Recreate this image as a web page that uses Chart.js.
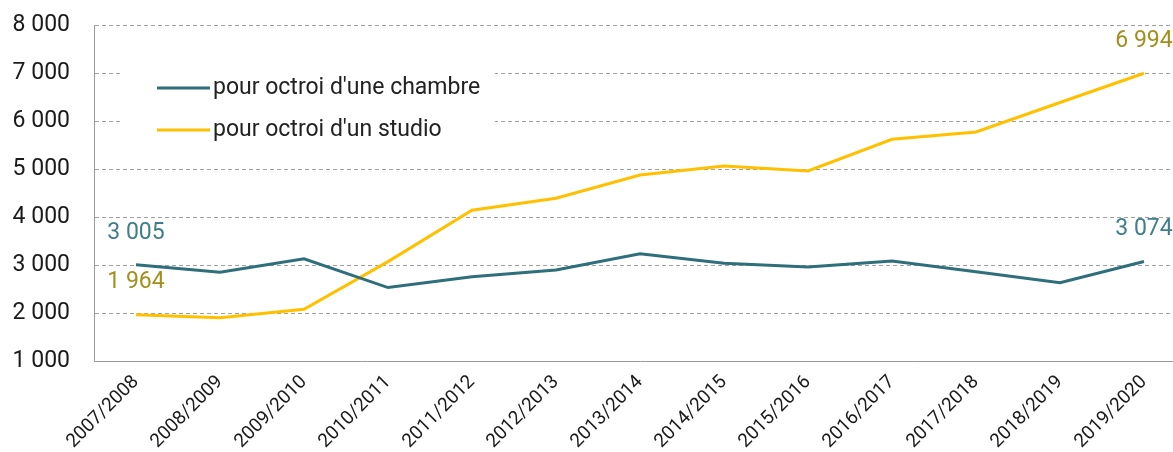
<!DOCTYPE html>
<html>
<head>
<meta charset="utf-8">
<script src="https://cdn.jsdelivr.net/npm/chart.js@4"></script>
<style>
  html, body { margin: 0; padding: 0; background: #fff; overflow: hidden; }
  #wrap { width: 1186px; height: 452px; }
</style>
</head>
<body>
<div id="wrap"><canvas id="loyerChart"></canvas></div>
<script>
// Données
const years = ["2007/2008", "2008/2009", "2009/2010", "2010/2011", "2011/2012", "2012/2013", "2013/2014",
  "2014/2015", "2015/2016", "2016/2017", "2017/2018", "2018/2019", "2019/2020"];
const chambre = [3005, 2848, 3131, 2530, 2756, 2896, 3235, 3035, 2960, 3083, 2860, 2632, 3074];
const studio = [1964, 1903, 2077, 3070, 4140, 4390, 4875, 5063, 4958, 5618, 5771, 6385, 6994];
const yTicks = [1000, 2000, 3000, 4000, 5000, 6000, 7000, 8000];

const TEAL = "#2f6f7b";
const YELLOW = "#ffc000";
const FONT = "Roboto, 'Liberation Sans', sans-serif";

function fmt(v) {
  return String(v).replace(/\B(?=(\d{3})+(?!\d))/g, " ");
}

// valeurs de début et fin au-dessus des courbes
const endLabels = {
  id: "endLabels",
  afterDatasetsDraw(chart) {
    const ctx = chart.ctx;
    ctx.save();
    ctx.font = "23px " + FONT;
    ctx.textAlign = "center";
    ctx.textBaseline = "middle";
    chart.data.datasets.forEach((ds, i) => {
      const meta = chart.getDatasetMeta(i);
      [0, ds.data.length - 1].forEach((idx) => {
        const pt = meta.data[idx];
        ctx.fillStyle = ds.labelColor;
        ctx.fillText(fmt(ds.data[idx]), pt.x, pt.y - 32);
      });
    });
    ctx.restore();
  },
};

// légende dans la zone du graphique
const innerLegend = {
  id: "innerLegend",
  beforeDatasetsDraw(chart) {
    const ctx = chart.ctx;
    ctx.save();
    ctx.fillStyle = "#fff";
    ctx.fillRect(123, 52, 372, 96);
    ctx.font = "23px " + FONT;
    ctx.textBaseline = "middle";
    chart.data.datasets.forEach((ds, i) => {
      const y = 88 + i * 42;
      ctx.strokeStyle = ds.borderColor;
      ctx.lineWidth = 3;
      ctx.beginPath();
      ctx.moveTo(157, y);
      ctx.lineTo(210, y);
      ctx.stroke();
      ctx.fillStyle = "#222";
      ctx.fillText(ds.label, 213, y);
    });
    ctx.restore();
  },
};

new Chart(document.getElementById("loyerChart"), {
  type: "line",
  data: {
    labels: years,
    datasets: [
      {
        label: "pour octroi d'une chambre",
        data: chambre,
        borderColor: TEAL,
        labelColor: "#3f7f8b",
        borderWidth: 3,
        pointRadius: 0,
        tension: 0,
      },
      {
        label: "pour octroi d'un studio",
        data: studio,
        borderColor: YELLOW,
        labelColor: "#a38f1c",
        borderWidth: 3,
        pointRadius: 0,
        tension: 0,
      },
    ],
  },
  options: {
    responsive: true,
    maintainAspectRatio: false,
    animation: false,
    layout: { padding: { top: 25, right: 0, bottom: 0, left: 0 } },
    plugins: {
      legend: { display: false },
      tooltip: { enabled: false },
    },
    scales: {
      x: {
        offset: true,
        grid: { display: false, drawTicks: false },
        border: { color: "#9a9a9a", width: 1 },
        ticks: {
          color: "#1a1a1a",
          font: { family: FONT, size: 19 },
          minRotation: 45,
          maxRotation: 45,
          padding: 10,
        },
        afterFit(scale) {
          scale.height = 91;
          scale.paddingTop = 0;
        },
      },
      y: {
        min: 1000,
        max: 8000,
        afterBuildTicks(scale) { scale.ticks = yTicks.map((v) => ({ value: v })); },
        grid: { color: "#a0a0a0", drawTicks: false, lineWidth: 1 },
        border: { color: "#9a9a9a", width: 1, dash: [4, 3] },
        ticks: {
          color: "#1a1a1a",
          font: { family: FONT, size: 23 },
          padding: 24,
          callback: (v) => fmt(v),
        },
        afterFit(scale) {
          scale.width = 94;
          scale.paddingTop = 0;
          scale.paddingBottom = 0;
        },
      },
    },
  },
  plugins: [innerLegend, endLabels],
});
</script>
</body>
</html>
